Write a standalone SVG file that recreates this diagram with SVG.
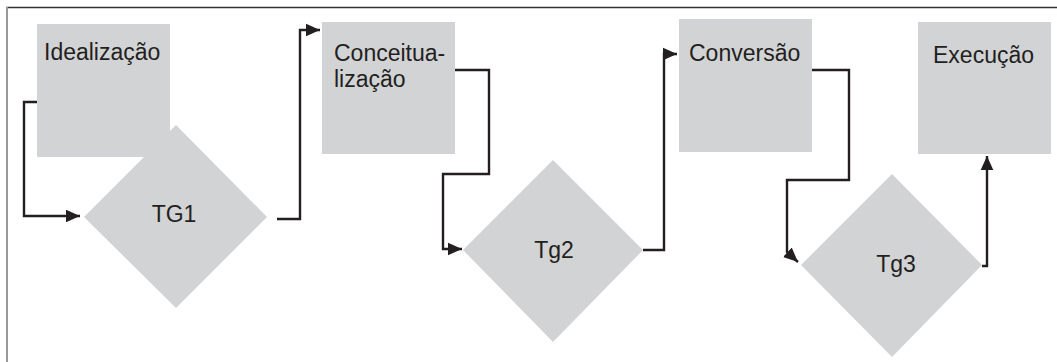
<svg xmlns="http://www.w3.org/2000/svg" width="1057" height="362" viewBox="0 0 1057 362">
<style>
.box{fill:#d2d3d5;}
.lbl{font-family:"Liberation Sans",Arial,sans-serif;font-size:23px;fill:#231f20;}
.c{text-anchor:middle;}
.con{fill:none;stroke:#231f20;stroke-width:2.4;}
</style>
<defs>
<marker id="ah" viewBox="0 0 10 10" refX="10" refY="5" markerWidth="6" markerHeight="6" markerUnits="strokeWidth" orient="auto">
<path d="M0,0.5 L10,5 L0,9.5 z" fill="#231f20"/>
</marker>
</defs>
<rect x="0" y="0" width="1057" height="362" fill="#fff"/>
<g id="frame">
<line x1="6" y1="7.5" x2="1057" y2="7.5" stroke="#333" stroke-width="1.5"/>
<line x1="7" y1="7" x2="7" y2="362" stroke="#999" stroke-width="2"/>
</g>
<g id="idealizacao">
<rect class="box" x="37" y="24" width="133" height="133"/>
<text class="lbl" x="44" y="60">Idealização</text>
</g>
<g id="tg1">
<polygon class="box" points="176,125 267,217 176,308 84,217"/>
<text class="lbl c" x="174" y="222">TG1</text>
</g>
<g id="conceitualizacao">
<rect class="box" x="322" y="22" width="133" height="132"/>
<text class="lbl" x="334" y="61">Conceitua-</text>
<text class="lbl" x="334" y="87">lização</text>
</g>
<g id="tg2">
<polygon class="box" points="553,160 643,250 553,342 463,250"/>
<text class="lbl c" x="554" y="258">Tg2</text>
</g>
<g id="conversao">
<rect class="box" x="679" y="19" width="133" height="133"/>
<text class="lbl" x="689" y="61">Conversão</text>
</g>
<g id="tg3">
<polygon class="box" points="892,174 982,265 892,357 801,265"/>
<text class="lbl c" x="896" y="272">Tg3</text>
</g>
<g id="execucao">
<rect class="box" x="918" y="22" width="133" height="132"/>
<text class="lbl" x="933" y="63">Execução</text>
</g>
<g id="connectors">
<path class="con" d="M37,102 H24 V216 H80" marker-end="url(#ah)"/>
<path class="con" d="M277,219 H300 V30 H320" marker-end="url(#ah)"/>
<path class="con" d="M455,70 H489 V174 H443 V249 H462" marker-end="url(#ah)"/>
<path class="con" d="M643,250 H664 V54 H677" marker-end="url(#ah)"/>
<path class="con" d="M812,70 H849 V180 H787 V252 L798,262" marker-end="url(#ah)"/>
<path class="con" d="M982,266 H987 V156" marker-end="url(#ah)"/>
</g>
</svg>
